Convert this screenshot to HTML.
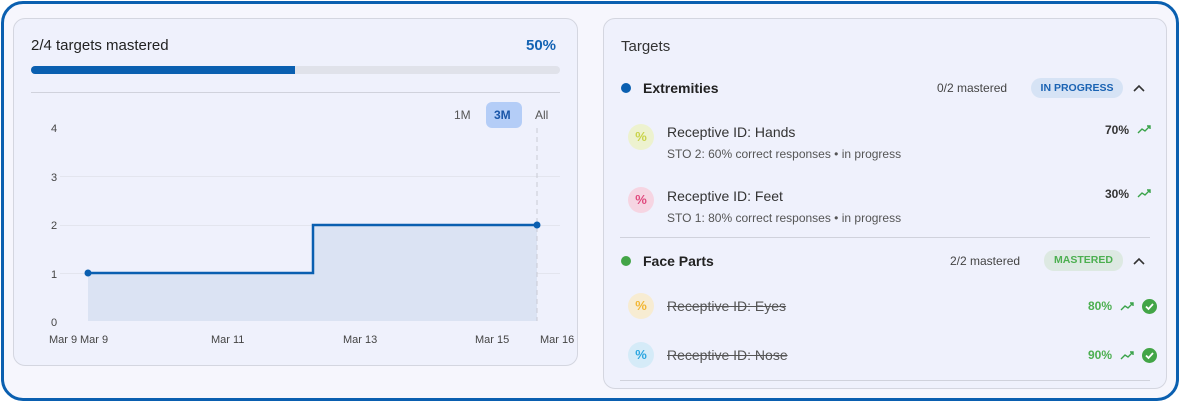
<!DOCTYPE html>
<html><head><meta charset="utf-8"><style>
*{box-sizing:border-box;margin:0;padding:0}
body{width:1180px;height:402px;background:#fff;font-family:"Liberation Sans",sans-serif;position:relative;overflow:hidden}
.outer{position:absolute;left:1px;top:1px;width:1178px;height:400px;border:3px solid #0a5fb0;border-radius:22px;background:#f6f6fd}
.card{position:absolute;background:#eff1fc;border:1px solid #d4d6e0;border-radius:12px}
.t{position:absolute;white-space:nowrap}
.ic{position:absolute;width:26px;height:26px;border-radius:50%;text-align:center;line-height:26px;font-size:13px;font-weight:bold}
.tr{position:absolute}
</style></head><body>
<div class="outer"></div>
<div class="card" style="left:13px;top:18px;width:565px;height:348px"></div>
<div class="card" style="left:603px;top:18px;width:564px;height:371px"></div>
<div class="t" style="left:31px;top:37px;font-size:15px;color:#222">2/4 targets mastered</div>
<div class="t" style="left:526px;top:37px;font-size:15px;color:#1363b3;font-weight:bold">50%</div>
<div style="position:absolute;left:31px;top:66px;width:529px;height:8px;border-radius:4px;background:#e0e2ea"></div>
<div style="position:absolute;left:31px;top:66px;width:264px;height:8px;border-radius:4px 0 0 4px;background:#0a5fb0"></div>
<div style="position:absolute;left:31px;top:92px;width:529px;height:1px;background:#d0d2dc"></div>
<div class="t" style="left:454px;top:108px;font-size:12px;color:#555">1M</div>
<div style="position:absolute;left:486px;top:102px;width:36px;height:26px;border-radius:6px;background:#b4cdf7"></div>
<div class="t" style="left:494px;top:108px;font-size:12px;color:#1a56a8;font-weight:bold">3M</div>
<div class="t" style="left:535px;top:108px;font-size:12px;color:#555">All</div>
<svg style="position:absolute;left:0;top:0" width="590" height="402">
<g stroke="#e3e5ee" stroke-width="1">
<line x1="60" y1="176.5" x2="560" y2="176.5"/><line x1="60" y1="225.5" x2="560" y2="225.5"/><line x1="60" y1="273.5" x2="560" y2="273.5"/>
</g>
<path d="M88 273 H313 V225 H537 V321 H88 Z" fill="#dbe3f3"/>
<line x1="537" y1="128" x2="537" y2="321" stroke="#c8cad4" stroke-dasharray="5,4"/>
<path d="M88 273 H313 V225 H537" fill="none" stroke="#0a5fb0" stroke-width="2.5"/>
<circle cx="88" cy="273" r="3.5" fill="#0a5fb0"/><circle cx="537" cy="225" r="3.5" fill="#0a5fb0"/>
<g font-size="11" fill="#444" font-family="Liberation Sans">
<text x="51" y="132">4</text><text x="51" y="181">3</text><text x="51" y="229">2</text><text x="51" y="278">1</text><text x="51" y="326">0</text>
<text x="49" y="343">Mar 9</text><text x="80" y="343">Mar 9</text><text x="211" y="343">Mar 11</text><text x="343" y="343">Mar 13</text><text x="475" y="343">Mar 15</text><text x="540" y="343">Mar 16</text>
</g>
</svg>
<svg style="position:absolute;left:0;top:0" width="1180" height="402">
<g fill="none" stroke="#333" stroke-width="1.6">
<path d="M1134 91 L1139 86 L1144 91"/><path d="M1134 264 L1139 259 L1144 264"/>
</g>
<g fill="none" stroke="#3aa34a" stroke-width="1.4">
<path d="M1138 133 L1142 129 L1145 131 L1150 126 M1147 126 H1150 V129"/>
<path d="M1138 197 L1142 193 L1145 195 L1150 190 M1147 190 H1150 V193"/>
<path d="M1121 310 L1125 306 L1128 308 L1133 303 M1130 303 H1133 V306"/>
<path d="M1121 359 L1125 355 L1128 357 L1133 352 M1130 352 H1133 V355"/>
</g>
<circle cx="1149.5" cy="306.5" r="7.5" fill="#43a547"/><circle cx="1149.5" cy="355.5" r="7.5" fill="#43a547"/>
<g fill="none" stroke="#fff" stroke-width="1.8"><path d="M1146 306.5 L1148.5 309 L1153 304"/><path d="M1146 355.5 L1148.5 358 L1153 353"/></g>
</svg>
<div class="t" style="left:621px;top:38px;font-size:15px;color:#333">Targets</div>
<div style="position:absolute;left:621px;top:83px;width:10px;height:10px;border-radius:50%;background:#0a5fb0"></div>
<div class="t" style="left:643px;top:80px;font-size:14px;color:#222;font-weight:bold">Extremities</div>
<div class="t" style="left:937px;top:81px;font-size:12px;color:#444">0/2 mastered</div>
<div class="t" style="left:1031px;top:78px;height:20px;width:92px;border-radius:10px;background:#d6e3f5;color:#1a63b3;font-size:10.5px;font-weight:bold;text-align:center;line-height:20px">IN PROGRESS</div>
<div class="ic" style="left:628px;top:124px;background:#edf2cf;color:#c9d34a">%</div>
<div class="t" style="left:667px;top:124px;font-size:14px;color:#333">Receptive ID: Hands</div>
<div class="t" style="left:667px;top:147px;font-size:12px;color:#555">STO 2: 60% correct responses • in progress</div>
<div class="t" style="left:1105px;top:123px;font-size:12px;color:#333;font-weight:bold">70%</div>
<div class="ic" style="left:628px;top:187px;background:#f6d5e2;color:#e04a7e">%</div>
<div class="t" style="left:667px;top:188px;font-size:14px;color:#333">Receptive ID: Feet</div>
<div class="t" style="left:667px;top:211px;font-size:12px;color:#555">STO 1: 80% correct responses • in progress</div>
<div class="t" style="left:1105px;top:187px;font-size:12px;color:#333;font-weight:bold">30%</div>
<div style="position:absolute;left:620px;top:237px;width:530px;height:1px;background:#d0d2dc"></div>
<div style="position:absolute;left:621px;top:256px;width:10px;height:10px;border-radius:50%;background:#43a547"></div>
<div class="t" style="left:643px;top:253px;font-size:14px;color:#222;font-weight:bold">Face Parts</div>
<div class="t" style="left:950px;top:254px;font-size:12px;color:#444">2/2 mastered</div>
<div class="t" style="left:1044px;top:250px;height:21px;width:79px;border-radius:10px;background:#dde9e2;color:#4caf50;font-size:10.5px;font-weight:bold;text-align:center;line-height:21px">MASTERED</div>
<div class="ic" style="left:628px;top:293px;background:#f7ecd2;color:#f2b632">%</div>
<div class="t" style="left:667px;top:298px;font-size:14px;color:#555;text-decoration:line-through">Receptive ID: Eyes</div>
<div class="t" style="left:1088px;top:299px;font-size:12px;color:#4caf50;font-weight:bold">80%</div>
<div class="ic" style="left:628px;top:342px;background:#d5ebf8;color:#2ba6e0">%</div>
<div class="t" style="left:667px;top:347px;font-size:14px;color:#555;text-decoration:line-through">Receptive ID: Nose</div>
<div class="t" style="left:1088px;top:348px;font-size:12px;color:#4caf50;font-weight:bold">90%</div>
<div style="position:absolute;left:620px;top:380px;width:530px;height:1px;background:#d0d2dc"></div>
</body></html>
